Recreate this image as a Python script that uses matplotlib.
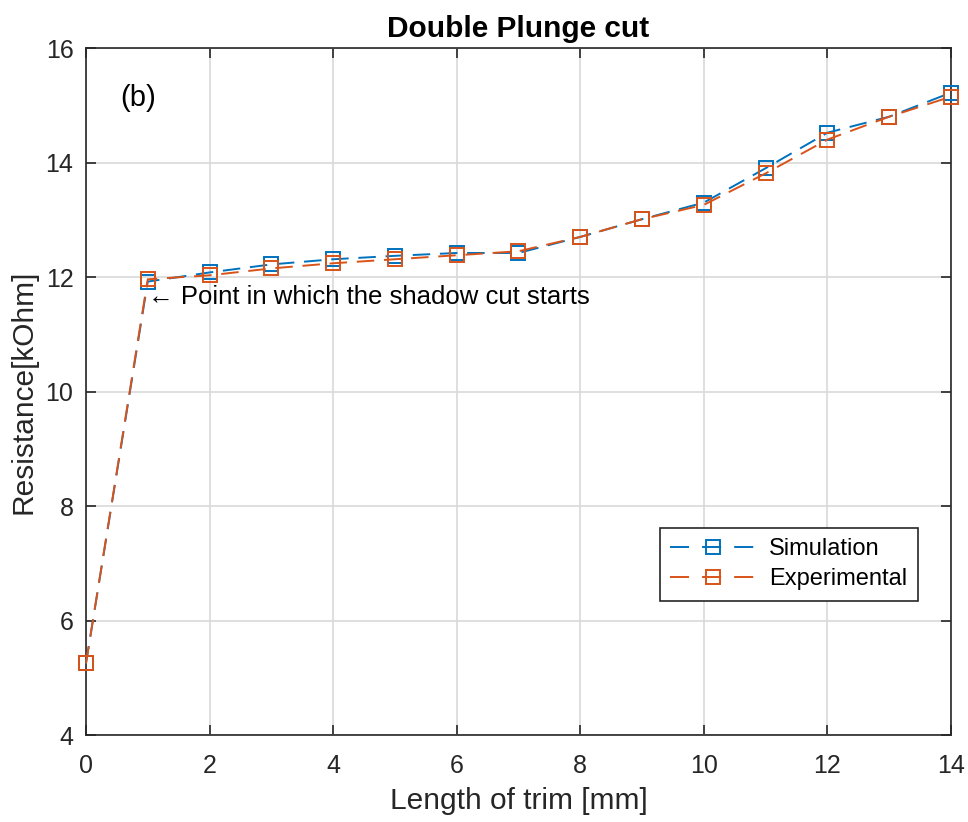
import matplotlib
matplotlib.use("Agg")
import matplotlib.pyplot as plt

plt.rcParams['font.family'] = ['Liberation Sans', 'DejaVu Sans']

trim_mm = [0, 1, 2, 3, 4, 5, 6, 7, 8, 9, 10, 11, 12, 13, 14]
simulation = [5.25, 11.92, 12.08, 12.22, 12.31, 12.37, 12.42, 12.42, 12.70, 13.01, 13.30, 13.90, 14.52, 14.80, 15.22]
experimental = [5.25, 11.96, 12.03, 12.15, 12.24, 12.31, 12.38, 12.45, 12.70, 13.01, 13.26, 13.81, 14.40, 14.80, 15.15]

blue = (0.0, 0.447, 0.741)
orange = (0.85, 0.325, 0.098)
axcol = (0.15, 0.15, 0.15)

fig = plt.figure(figsize=(9.68, 8.22), dpi=100)
ax = fig.add_axes([0.0888, 0.1058, 0.8936, 0.8358])

for vals, col, lab in [(simulation, blue, 'Simulation'), (experimental, orange, 'Experimental')]:
    ax.plot(trim_mm, vals, linestyle=(0, (9, 5)), color=col, lw=1.4,
            marker='s', markersize=10, markerfacecolor='none', markeredgewidth=1.4,
            label=lab, clip_on=False, zorder=3)

ax.set_xlim(0, 14)
ax.set_ylim(4, 16)
ax.set_xticks(range(0, 15, 2))
ax.set_yticks(range(4, 17, 2))
ax.grid(True, color=(0.85, 0.85, 0.85), lw=1.2)
ax.set_axisbelow(True)
ax.tick_params(direction='in', length=7, width=1.2, labelsize=18, colors=axcol,
               top=True, right=True)
ax.tick_params(axis='x', pad=14)
ax.tick_params(axis='y', pad=9)
for sp in ax.spines.values():
    sp.set_color(axcol)
    sp.set_linewidth(1.2)

ax.set_xlabel('Length of trim [mm]', fontsize=21.5, color=axcol, labelpad=6)
ax.set_ylabel('Resistance[kOhm]', fontsize=21.5, color=axcol, labelpad=6)
ax.set_title('Double Plunge cut', fontsize=21.5, fontweight='bold', pad=8)

ax.text(1.0, 11.65, '\u2190 Point in which the shadow cut starts', fontsize=18.5,
        ha='left', va='center', family=['Liberation Sans', 'DejaVu Sans'])
ax.text(0.84, 15.13, '(b)', fontsize=21, ha='center', va='center')

leg = ax.legend(loc='lower right', bbox_to_anchor=(0.962, 0.195), borderaxespad=0,
                fontsize=17, fancybox=False, framealpha=1, edgecolor=axcol,
                handlelength=3.6, borderpad=0.45, labelspacing=0.35, handletextpad=0.6)
leg.get_frame().set_linewidth(1.2)
for ln in leg.get_lines():
    ln.set_linestyle((0, (9.8, 6.7)))

fig.savefig('out.png', dpi=100)
